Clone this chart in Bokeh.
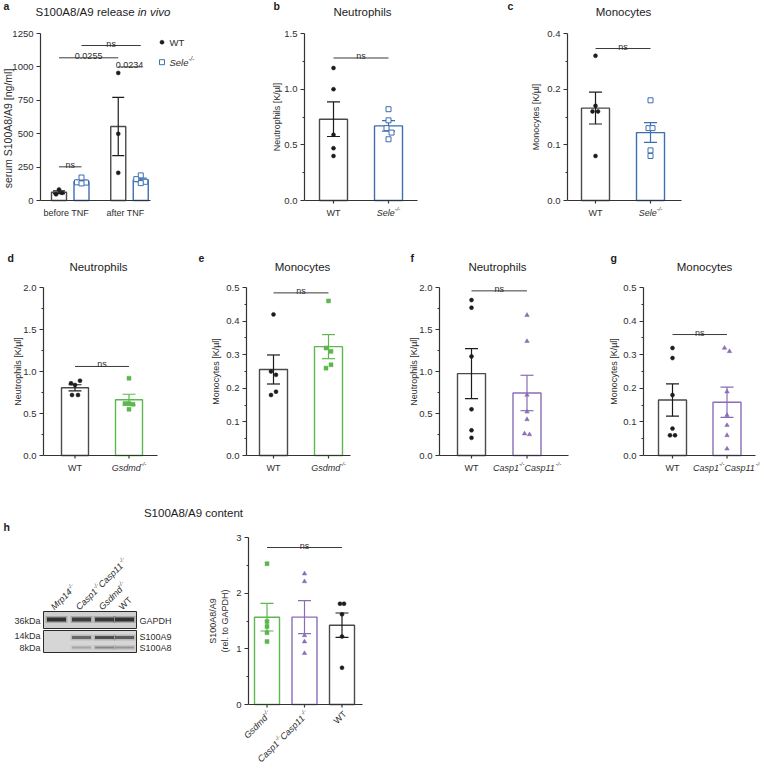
import numpy as np
from math import pi, cos, sin
from bokeh.plotting import figure
from bokeh.models import Label, Range1d, FixedTicker
from bokeh.layouts import row, column
from bokeh.embed import file_html
from bokeh.resources import INLINE

FONT = "Liberation Sans"
INK = "#1c1c1c"
LABEL_INK = "#2e2e2e"
AXIS = "#333333"
WT_EDGE = "#4a4a4a"
BLUE = "#3e6db2"
GREEN = "#5cb84e"
PURPLE = "#8b6db6"

# ---------------- data ----------------
# a: serum S100A8/A9 [ng/ml]
a_conditions = ["before TNF", "after TNF"]
a_legend = ["WT", "Sele-/-"]
a_wt_before = [82, 46, 57]
a_sele_before = [172, 136, 134, 128]
a_wt_after = [955, 499, 207]
a_sele_after = [188, 160, 140, 130]
a_wt_before_jit = [0, -3, 3]
a_sele_before_jit = [0, -4.5, 4.5, 0]
a_wt_after_jit = [0, 0, 0]
a_sele_after_jit = [0, -4.5, 4.5, 0]
a_ticks = [0, 250, 500, 750, 1000, 1250]
a_tick_labels = ["0", "250", "500", "750", "1000", "1250"]
a_sig_from = [(0, 0), (0, 0), (1, 0), (0, 1)]
a_sig_to = [(0, 1), (1, 0), (1, 1), (1, 1)]
a_sig_y = [252, 1068, 1000, 1160]
a_sig_text = ["ns", "0.0255", "0.0234", "ns"]

# b: neutrophils, Sele
b_names = ["WT", "Sele-/-"]
b_wt = [1.19, 1.00, 0.59, 0.47, 0.40]
b_sele = [0.82, 0.72, 0.65, 0.61, 0.55]
b_wt_jit = [0, 0, 0, 0, 0]
b_sele_jit = [0, 0, -2, 3, 0]
b_ticks = [0.0, 0.5, 1.0, 1.5]
b_tick_labels = ["0.0", "0.5", "1.0", "1.5"]
b_minor = [0.25, 0.75, 1.25]
b_ns = 1.28

# c: monocytes, Sele
c_names = ["WT", "Sele-/-"]
c_wt = [0.26, 0.17, 0.16, 0.16, 0.08]
c_sele = [0.18, 0.13, 0.13, 0.09, 0.08]
c_wt_jit = [0, 0, -3, 2.5, 0]
c_sele_jit = [0, -2, 2, 0, 0]
c_ticks = [0.0, 0.1, 0.2, 0.3]
c_tick_labels = ["0.0", "0.1", "0.2", "0.4"]
c_minor = [0.05, 0.15, 0.25]
c_ns = 0.273

# d: neutrophils, Gsdmd
d_names = ["WT", "Gsdmd-/-"]
d_wt = [0.89, 0.86, 0.84, 0.72, 0.72]
d_gsdmd = [0.92, 0.62, 0.62, 0.61, 0.55]
d_wt_jit = [5, -4, 0, -3, 3]
d_gsdmd_jit = [0, -4, 0, 4, 0]
d_ticks = [0.0, 0.5, 1.0, 1.5, 2.0]
d_tick_labels = ["0.0", "0.5", "1.0", "1.5", "2.0"]
d_minor = [0.25, 0.75, 1.25, 1.75]
d_ns = 1.06

# e: monocytes, Gsdmd
e_names = ["WT", "Gsdmd-/-"]
e_wt = [0.42, 0.25, 0.24, 0.19, 0.18]
e_gsdmd = [0.46, 0.32, 0.31, 0.27, 0.26]
e_wt_jit = [0, -2.5, 2.5, 2.5, -2.5]
e_gsdmd_jit = [0, -2.5, 2.5, 2.5, -2.5]
e_ticks = [0.0, 0.1, 0.2, 0.3, 0.4, 0.5]
e_tick_labels = ["0.0", "0.1", "0.2", "0.3", "0.4", "0.5"]
e_minor = [0.05, 0.15, 0.25, 0.35, 0.45]
e_ns = 0.484

# f: neutrophils, Casp1/Casp11
f_names = ["WT", "Casp1-/-Casp11-/-"]
f_wt = [1.85, 1.76, 1.18, 0.55, 0.30, 0.21]
f_casp = [1.67, 1.36, 0.72, 0.52, 0.43, 0.26, 0.25]
f_wt_jit = [0, 0, 0, 0, 0, 0]
f_casp_jit = [0, 0, 0, 0, 0, -2.5, 2.5]
f_ticks = [0.0, 0.5, 1.0, 1.5, 2.0]
f_tick_labels = ["0.0", "0.5", "1.0", "1.5", "2.0"]
f_minor = [0.25, 0.75, 1.25, 1.75]
f_ns = 1.96

# g: monocytes, Casp1/Casp11
g_names = ["WT", "Casp1-/-Casp11-/-"]
g_wt = [0.32, 0.29, 0.18, 0.08, 0.06, 0.06]
g_casp = [0.32, 0.31, 0.19, 0.12, 0.09, 0.06, 0.02]
g_wt_jit = [0, 0, 0, 0, -2.5, 2.5]
g_casp_jit = [-2.5, 2.5, 0, 0, 0, 0, 0]
g_ticks = [0.0, 0.1, 0.2, 0.3, 0.4, 0.5]
g_tick_labels = ["0.0", "0.1", "0.2", "0.3", "0.4", "0.5"]
g_minor = [0.05, 0.15, 0.25, 0.35, 0.45]
g_ns = 0.36

# h: S100A8/A9 content (rel. to GAPDH)
h_names = ["Gsdmd-/-", "Casp1-/-Casp11-/-", "WT"]
h_gsdmd = [2.53, 1.49, 1.40, 1.29, 1.13]
h_casp = [2.35, 2.21, 1.24, 1.13, 0.92]
h_wt = [1.81, 1.81, 1.62, 1.22, 0.66]
h_gsdmd_jit = [0, 0, 0, 0, 0]
h_casp_jit = [0, 0, 0, 0, 0]
h_wt_jit = [-2, 2, 0, 0, 0]
h_ticks = [0, 1, 2, 3]
h_tick_labels = ["0", "1", "2", "3"]
h_minor = [0.5, 1.5, 2.5]
h_ns = 2.82

# western blot (relative band intensities per lane)
blot_lanes = ["Mrp14-/-", "Casp1-/-Casp11-/-", "Gsdmd-/-", "WT"]
blot_gapdh = [0.90, 0.82, 0.85, 0.90]
blot_s100a9 = [0.0, 0.55, 0.72, 0.62]
blot_s100a8 = [0.0, 0.22, 0.38, 0.30]
blot_markers = ["36kDa", "14kDa", "8kDa"]
blot_bands = ["GAPDH", "S100A9", "S100A8"]

# ---------------- helpers ----------------
EM = {" ": .278, "-": .333, "/": .278, ".": .278, "[": .278, "]": .278, "(": .333, ")": .333,
      "A": .667, "C": .722, "D": .722, "F": .611, "G": .778, "H": .722, "K": .667, "M": .833,
      "N": .722, "P": .667, "S": .667, "T": .611, "W": .944,
      "a": .556, "b": .556, "c": .5, "d": .556, "e": .556, "f": .278, "g": .556, "h": .556,
      "i": .222, "k": .5, "l": .222, "m": .833, "n": .556, "o": .556, "p": .556, "r": .333,
      "s": .5, "t": .278, "u": .556, "v": .5, "y": .5, "µ": .556}


def tw(s, size):
    return sum(EM.get(ch, .556) for ch in s) * size


def add_text(p, sx, sy, text, size, color=INK, align="left", baseline="middle",
             style="normal", angle=0.0):
    p.add_layout(Label(x=sx, y=sy, x_units="screen", y_units="screen", text=text,
                       text_font=FONT, text_font_size=f"{size}px", text_font_style=style,
                       text_color=color, text_align=align, text_baseline=baseline,
                       angle=angle))


def gene_text(p, sx, sy, name, size, color=LABEL_INK, align="center", angle=0.0, italic=True):
    parts = name.split("-/-")
    segs = []
    for i, part in enumerate(parts):
        if part:
            segs.append((part, False))
        if i < len(parts) - 1:
            segs.append(("-/-", True))
    ssize = round(size * 0.66, 2)
    widths = [tw(t, ssize if sup else size) for t, sup in segs]
    total = sum(widths)
    start = {"center": -total / 2, "right": -total}.get(align, 0.0)
    ca, sa = cos(angle), sin(angle)
    off = start
    style = "italic" if italic else "normal"
    for (t, sup), w in zip(segs, widths):
        r = size * 0.36 if sup else 0.0
        x = sx + off * ca - r * sa
        y = sy + off * sa + r * ca
        add_text(p, x, y, t, ssize if sup else size, color=color, style=style, angle=angle)
        off += w


def mean_sem(v):
    v = np.asarray(v, float)
    return float(v.mean()), float(v.std(ddof=1) / np.sqrt(len(v)))


def new_fig(W, H, xr, yr, axes=True):
    kw = dict(width=W, height=H, x_range=Range1d(*xr), y_range=Range1d(*yr),
              output_backend="svg", toolbar_location=None, title=None,
              min_border_left=0, min_border_right=0, min_border_top=0, min_border_bottom=0)
    if not axes:
        kw.update(x_axis_location=None, y_axis_location=None)
    p = figure(**kw)
    p.grid.visible = False
    p.outline_line_color = None
    p.background_fill_color = "white"
    p.border_fill_color = "white"
    return p


def style_axes(p, ticks, labels, minors, ybounds, xbounds, yaxis_x):
    ya = p.yaxis[0]
    xa = p.xaxis[0]
    ya.fixed_location = yaxis_x
    xa.fixed_location = 0
    ya.ticker = FixedTicker(ticks=ticks, minor_ticks=minors)
    ya.major_label_overrides = {t: s for t, s in zip(ticks, labels)}
    ya.bounds = ybounds
    xa.ticker = FixedTicker(ticks=[])
    xa.bounds = xbounds
    for ax in (xa, ya):
        ax.axis_line_color = AXIS
        ax.axis_line_width = 1.2
        ax.major_tick_line_color = AXIS
        ax.minor_tick_line_color = AXIS
        ax.major_tick_in = 0
        ax.minor_tick_in = 0
        ax.major_tick_out = 4
        ax.minor_tick_out = 2
    ya.major_label_text_font = FONT
    ya.major_label_text_font_size = "9.5px"
    ya.major_label_text_color = LABEL_INK
    ya.major_label_standoff = 3


STYLE = {
    "WT": dict(edge=WT_EDGE, err=INK, marker="circle", fill=INK, line=INK, size=4, lw=0.5),
    "Sele": dict(edge=BLUE, err=BLUE, marker="square", fill="white", line=BLUE, size=5, lw=1),
    "Gsdmd": dict(edge=GREEN, err=GREEN, marker="square", fill=GREEN, line=GREEN, size=4, lw=0.5),
    "Casp": dict(edge=PURPLE, err=PURPLE, marker="triangle", fill=PURPLE, line=PURPLE, size=4.5,
                 lw=0.5),
}


def draw_group(p, x, vals, st, bw, cap):
    m, s = mean_sem(vals)
    p.vbar(x=[x], top=[m], width=bw, fill_color="white", line_color=st["edge"], line_width=1.4)
    p.segment(x0=[x, x - cap, x - cap], y0=[m - s, m - s, m + s],
              x1=[x, x + cap, x + cap], y1=[m + s, m - s, m + s],
              line_color=st["err"], line_width=1.2)


def draw_points(p, x, vals, jit, st, d):
    xs = [x + j / d for j in jit]
    p.scatter(x=xs, y=vals, marker=st["marker"], size=st["size"], fill_color=st["fill"],
              line_color=st["line"], line_width=st["lw"])


def ns_bracket(p, xa, xb, y, text):
    p.segment(x0=[xa], y0=[y], x1=[xb], y1=[y], line_color="#3a3a3a", line_width=1)
    p.add_layout(Label(x=(xa + xb) / 2, y=y, y_offset=2, text=text, text_font=FONT,
                       text_font_size="9px", text_color=LABEL_INK, text_align="center",
                       text_baseline="alphabetic"))


def bar_panel(W, H, L, y0, ytop, centers, axis_end, bw_px, ticks, tlabels, minors,
              groups, kinds, jits, names, italics, ns_y, title, title_x, title_y,
              letter, letter_x, letter_y, ylabels, ylabel_xs, xlabel_y, rotate=False):
    n = len(groups)
    d = (centers[-1] - centers[0]) / (n - 1)
    x0 = -centers[0] / d
    top = ticks[-1]
    ypp = top / (y0 - ytop)
    p = new_fig(W, H, (x0, x0 + W / d), (-(H - y0) * ypp, y0 * ypp))
    xs = list(range(n))
    style_axes(p, ticks, tlabels, minors, (0, top), (x0 + L / d, x0 + axis_end / d), x0 + L / d)
    # category tick marks under the x axis
    p.segment(x0=xs, y0=[0] * n, x1=xs, y1=[-3 * ypp] * n, line_color=AXIS, line_width=1.2)
    cap = 6.5 / d
    for i in xs:
        draw_group(p, i, groups[i], STYLE[kinds[i]], bw_px / d, cap)
    for i in xs:
        draw_points(p, i, groups[i], jits[i], STYLE[kinds[i]], d)
    ns_bracket(p, 0, n - 1, ns_y, "ns")
    if title:
        add_text(p, title_x, H - title_y, title, 11.5, align="center")
    if letter:
        add_text(p, letter_x, H - letter_y, letter, 10.5, style="bold")
    for txt, lx in zip(ylabels, ylabel_xs):
        add_text(p, lx, H - (y0 + ytop) / 2, txt, 9, align="center", angle=pi / 2,
                 color=LABEL_INK)
    for i in xs:
        cx = (i - x0) * d
        if rotate:
            gene_text(p, cx + 3, H - y0 - 8, names[i], 9, align="right", angle=pi / 4,
                      italic=italics[i])
        else:
            gene_text(p, cx, H - xlabel_y, names[i], 9, align="center", italic=italics[i])
    return p


# ---------------- panel a ----------------
def panel_a():
    W, H, L, y0, ytop = 240, 236, 40, 200, 33
    gc = [69.75, 129.0]
    d = gc[1] - gc[0]
    x0 = -gc[0] / d
    top = a_ticks[-1]
    ypp = top / (y0 - ytop)
    p = new_fig(W, H, (x0, x0 + W / d), (-(H - y0) * ypp, y0 * ypp))
    style_axes(p, a_ticks, a_tick_labels, [], (0, top), (x0 + L / d, x0 + 150 / d), x0 + L / d)
    off = 11.25 / d
    series = [(a_wt_before, a_wt_after), (a_sele_before, a_sele_after)]
    jits = [(a_wt_before_jit, a_wt_after_jit), (a_sele_before_jit, a_sele_after_jit)]
    kinds = ["WT", "Sele"]

    def pos(g, s):
        return g + (2 * s - 1) * off

    for s in range(2):
        for g in range(2):
            draw_group(p, pos(g, s), series[s][g], STYLE[kinds[s]], 15 / d, 6 / d)
    for s in range(2):
        for g in range(2):
            draw_points(p, pos(g, s), series[s][g], jits[s][g], STYLE[kinds[s]], d)
    for (ga, sa), (gb, sb), yv, txt in zip(a_sig_from, a_sig_to, a_sig_y, a_sig_text):
        ns_bracket(p, pos(ga, sa), pos(gb, sb), yv, txt)
    # legend
    for k, (kind, ly) in enumerate(zip(kinds, [41.7, 61.7])):
        st = STYLE[kind]
        p.scatter(x=[x0 + 161.5 / d], y=[(y0 - ly) * ypp], marker=st["marker"],
                  size=st["size"], fill_color=st["fill"], line_color=st["line"],
                  line_width=st["lw"])
        gene_text(p, 169, H - ly, a_legend[k], 9.5, align="left", italic=(k == 1))
    # title
    t1 = "S100A8/A9 release "
    add_text(p, 35, H - 11.5, t1, 11.5)
    add_text(p, 35 + tw(t1, 11.5), H - 11.5, "in vivo", 11.5, style="italic")
    add_text(p, 3, H - 5.5, "a", 10.5, style="bold")
    add_text(p, 7, H - 128, "serum S100A8/A9 [ng/ml]", 10.5, align="center", angle=pi / 2,
             color=LABEL_INK)
    for g, name in enumerate(a_conditions):
        add_text(p, (g - x0) * d - 4, H - 212, name, 9, align="center", color=LABEL_INK)
    return p


pa = panel_a()
pb = bar_panel(256, 236, 64, 200, 33, [93, 148], 177, 28, b_ticks, b_tick_labels, b_minor,
               [b_wt, b_sele], ["WT", "Sele"], [b_wt_jit, b_sele_jit], b_names, [False, True],
               b_ns, "Neutrophils", 122, 11.5, "b", 33, 5.5, ["Neutrophils [K/µl]"], [36], 212)
pc = bar_panel(264, 236, 71, 200, 33, [99, 154], 185, 28, c_ticks, c_tick_labels, c_minor,
               [c_wt, c_sele], ["WT", "Sele"], [c_wt_jit, c_sele_jit], c_names, [False, True],
               c_ns, "Monocytes", 127, 11.5, "c", 11, 5.5, ["Monocytes [K/µl]"], [39], 212)

pd_ = bar_panel(196, 252, 43, 219, 51, [74.5, 128.5], 157, 27, d_ticks, d_tick_labels, d_minor,
                [d_wt, d_gsdmd], ["WT", "Gsdmd"], [d_wt_jit, d_gsdmd_jit], d_names, [False, True],
                d_ns, "Neutrophils", 98, 30, "d", 7, 21, ["Neutrophils [K/µl]"], [17], 231)
pe = bar_panel(184, 252, 50, 219, 51, [77, 132], 154, 28, e_ticks, e_tick_labels, e_minor,
               [e_wt, e_gsdmd], ["WT", "Gsdmd"], [e_wt_jit, e_gsdmd_jit], e_names, [False, True],
               e_ns, "Monocytes", 106, 30, "e", 2, 21, ["Monocytes [K/µl]"], [19], 231)
pf = bar_panel(220, 252, 59, 219, 51, [91, 146.5], 188, 28, f_ticks, f_tick_labels, f_minor,
               [f_wt, f_casp], ["WT", "Casp"], [f_wt_jit, f_casp_jit], f_names, [False, True],
               f_ns, "Neutrophils", 117, 30, "f", 30, 21, ["Neutrophils [K/µl]"], [33], 231)
pg = bar_panel(160, 252, 43, 219, 51, [72, 126.5], 155, 28, g_ticks, g_tick_labels, g_minor,
               [g_wt, g_casp], ["WT", "Casp"], [g_wt_jit, g_casp_jit], g_names, [False, True],
               g_ns, "Monocytes", 104, 30, "g", 10, 21, ["Monocytes [K/µl]"], [13], 231)

# ---------------- row 3 ----------------
pt = new_fig(760, 32, (0, 760), (0, 32), axes=False)
add_text(pt, 193, 8, "S100A8/A9 content", 11.5, align="center")


def panel_blot():
    W, H = 205, 248
    p = new_fig(W, H, (0, W), (H, 0), axes=False)
    lane_px = [56, 81, 104, 124]
    p.quad(left=[43, 43], right=[136, 136], top=[91, 110], bottom=[108, 132],
           fill_color=["#cfcfcf", "#d6d6d6"], line_color="#2a2a2a", line_width=1)
    band_y = [99, 117, 127]
    band_h = [4.0, 3.0, 2.2]
    for vals, by, bh in zip([blot_gapdh, blot_s100a9, blot_s100a8], band_y, band_h):
        p.rect(x=lane_px, y=[by] * 4, width=22, height=bh + 3, fill_color="#3a3a3a",
               fill_alpha=[v * 0.3 for v in vals], line_color=None)
        p.rect(x=lane_px, y=[by] * 4, width=19, height=bh, fill_color="#252525",
               fill_alpha=vals, line_color=None)
    for txt, by in zip(blot_markers, [100, 115, 127]):
        add_text(p, 40, H - by, txt, 9, align="right", color=LABEL_INK)
    for txt, by in zip(blot_bands, [100, 116, 127]):
        add_text(p, 139, H - by, txt, 9, color=LABEL_INK)
    for name, lx in zip(blot_lanes, lane_px):
        gene_text(p, lx - 4, H - 88, name, 9, align="left", angle=pi / 4, italic=(name != "WT"))
    add_text(p, 3, H - 6, "h", 10.5, style="bold")
    return p


pbl = panel_blot()
ph = bar_panel(555, 248, 43, 184, 17, [61.5, 99.5, 136.5], 157, 25, h_ticks, h_tick_labels,
               h_minor, [h_gsdmd, h_casp, h_wt], ["Gsdmd", "Casp", "WT"],
               [h_gsdmd_jit, h_casp_jit, h_wt_jit], h_names, [True, True, False],
               h_ns, "", 0, 0, "", 0, 0, ["S100A8/A9", "(rel. to GAPDH)"], [7, 19], 0,
               rotate=True)

layout = column(row(pa, pb, pc), row(pd_, pe, pf, pg), pt, row(pbl, ph))
open("out.html", "w").write(file_html(layout, INLINE))
